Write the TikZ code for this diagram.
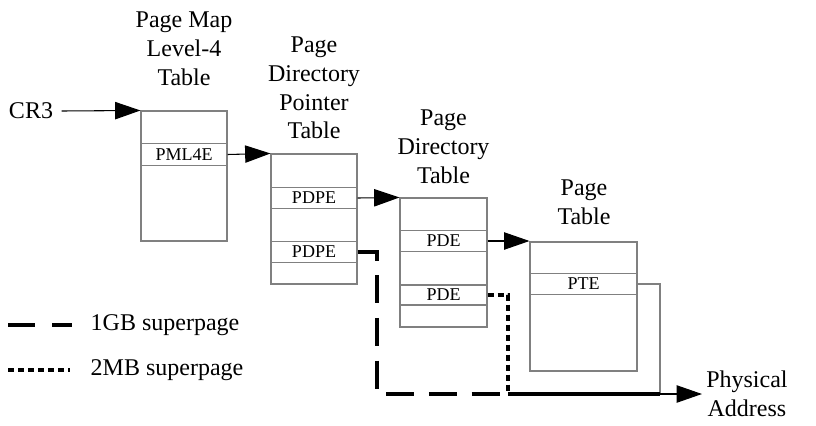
\documentclass[tikz,border=0pt]{standalone}
\usepackage{fontspec}
\setmainfont{Liberation Serif}
\usetikzlibrary{arrows.meta}
\definecolor{tgray}{RGB}{128,128,128}
\begin{document}
\begin{tikzpicture}[x=0.75pt,y=-0.75pt,
  tablebox/.style={draw=tgray, line width=0.8pt, inner sep=0pt, minimum width=64.5pt, minimum height=97.5pt},
  entry/.style={draw=tgray, line width=0.8pt, inner sep=0pt, minimum width=64.5pt, minimum height=16pt, font=\fontsize{13.5}{16}\selectfont},
  tabletitle/.style={align=center, font=\fontsize{18}{21.6}\selectfont},
  conn/.style={line width=0.8pt, -{Triangle[length=19pt,width=13pt]}},
  gbline/.style={line width=3pt, dash pattern=on 21pt off 11pt},
  mbline/.style={line width=3pt, dash pattern=on 4.5pt off 3pt},
  thinline/.style={draw=tgray, line width=0.8pt}
]
\useasboundingbox (0,0) rectangle (816,425);

% titles
\node[tabletitle] (title1) at (184,49) {Page Map\\Level-4\\Table};
\node[tabletitle] (title2) at (314,88) {Page\\Directory\\Pointer\\Table};
\node[tabletitle] (title3) at (443.5,147) {Page\\Directory\\Table};
\node[tabletitle] (title4) at (584,202.5) {Page\\Table};

% tables
\node[tablebox] (t1) at (184,176) {};
\node[entry] (pml4e) at (184,154.5) {PML4E};
\node[tablebox] (t2) at (314,219) {};
\node[entry] (pdpe1) at (314,198) {PDPE};
\node[entry] (pdpe2) at (314,252) {PDPE};
\node[tablebox, minimum width=65.25pt, minimum height=96.75pt] (t3) at (443.5,262.5) {};
\node[entry, minimum width=65.25pt] (pde1) at (443.5,241) {PDE};
\node[entry, minimum width=65.25pt, minimum height=15pt] (pde2) at (443.5,295) {PDE};
\node[tablebox, minimum width=80.25pt, minimum height=96.75pt] (t4) at (583.5,306.5) {};
\node[entry, minimum width=80.25pt] (pte) at (583.5,284) {PTE};

% CR3
\node[tabletitle] (cr3) at (31,111) {CR3};
\draw[conn] ([xshift=3pt]cr3.east) -- (t1.north west);
\draw[conn] (pml4e.east) -- (t2.north west);
\draw[conn] (pdpe1.east) -- (t3.north west);
\draw[conn] (pde1.east) -- (pde1.east -| t4.west);

% superpage paths
\coordinate (gbcorner) at (377,394);
\coordinate (join) at (508,394);
\coordinate (ptcorner) at (660,394);
\coordinate (pa) at (702,394);
\draw[gbline] (pdpe2.east) -| (gbcorner) -- (join);
\draw[mbline] (pde2.east) -| (join);
\draw[thinline] (pte.east) -| (ptcorner);
\draw[line width=3pt] (join) -- (ptcorner);
\draw[conn] (ptcorner) -- (pa);
\node[tabletitle, anchor=west, inner sep=3pt] (phys) at (pa) {Physical\\Address};

% legend
\coordinate (l1a) at (8,325);
\coordinate (l1b) at (72,325);
\coordinate (l2a) at (8,370);
\coordinate (l2b) at (70,370);
\draw[gbline, dash pattern=on 20pt off 13pt] (l1a) -- (l1b);
\draw[mbline] (l2a) -- (l2b);
\node[tabletitle, anchor=west] (l1t) at (86,325) {1GB superpage};
\node[tabletitle, anchor=west] (l2t) at (86,370) {2MB superpage};
\end{tikzpicture}
\end{document}
